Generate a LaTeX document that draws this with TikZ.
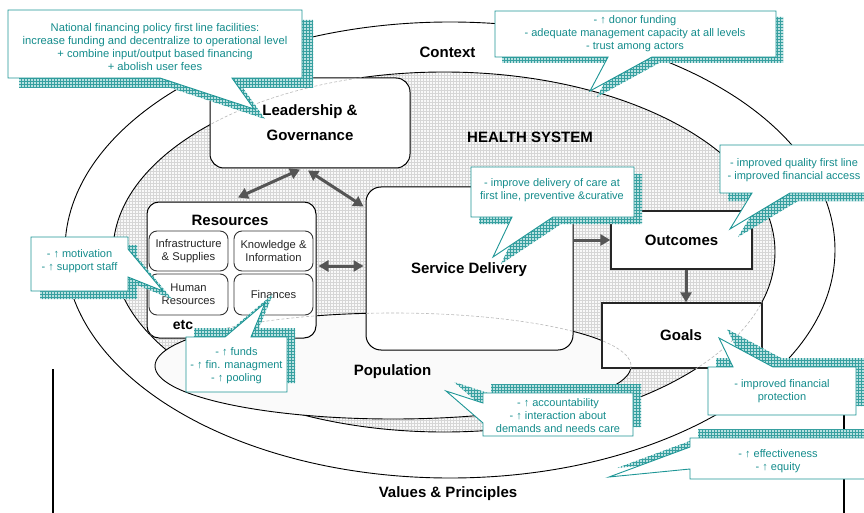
\documentclass[tikz,border=0pt]{standalone}
\usepackage{fontspec}
\setmainfont{Liberation Sans}
\usetikzlibrary{arrows.meta,patterns,calc}
\definecolor{tealtxt}{RGB}{20,140,140}
\definecolor{tealln}{RGB}{30,150,150}
\definecolor{shadowbg}{RGB}{185,225,225}
\definecolor{shadowfg}{RGB}{55,160,160}
\definecolor{arrowgray}{RGB}{85,85,85}
\tikzset{
  lbl/.style={font=\fontsize{15}{18}\selectfont\bfseries, anchor=base, inner sep=0pt},
  bigbox/.style={draw=black, line width=1pt, fill=white, inner sep=0pt, align=center, font=\fontsize{15}{25}\selectfont\bfseries},
  sqbox/.style={draw=black!85, line width=1.3pt, fill=white, inner sep=0pt, font=\fontsize{15}{18}\selectfont\bfseries},
  subbox/.style={draw=black!80, line width=0.9pt, fill=white, rounded corners=8pt, minimum width=79pt, minimum height=40pt, align=center, font=\fontsize{11.2}{13}\selectfont, text=black!85, inner sep=0pt},
  link/.style={draw=arrowgray, line width=3pt, -{Triangle[length=10pt,width=11pt]}},
  dlink/.style={draw=arrowgray, line width=3pt, {Triangle[length=10pt,width=11pt]}-{Triangle[length=10pt,width=11pt]}},
  cshadow/.style={fill=shadowbg, postaction={pattern=grid, pattern color=shadowfg}},
  cbox/.style={draw=tealln, line width=0.9pt, fill=white, line join=miter},
  ctext/.style={text=tealtxt, font=\fontsize{11}{13}\selectfont, align=center, inner sep=0pt},
  ghost/.style={draw=gray!55, dash pattern=on 3pt off 2pt, line width=0.6pt},
  ring/.style={draw=black, line width=0.9pt},
}
\def\cA{(8,10) -- (302,10) -- (302,78) -- (232,78) -- (254,109) -- (160,78) -- (8,78) -- cycle}
\def\cB{(495,11) -- (776,11) -- (776,57) -- (652,57) -- (590,91) -- (608,57) -- (495,57) -- cycle}
\def\cC{(720,145) -- (868,145) -- (868,193) -- (790,193) -- (730,229) -- (752,193) -- (720,193) -- cycle}
\def\cD{(471,167) -- (634,167) -- (634,217) -- (553,217) -- (493,257) -- (512,217) -- (471,217) -- cycle}
\def\cE{(31,237) -- (128,237) -- (128,249) -- (163,291) -- (128,277) -- (128,291) -- (31,291) -- cycle}
\def\cF{(186,337) -- (225,337) -- (265,303) -- (251,337) -- (287,337) -- (287,392) -- (186,392) -- cycle}
\def\cG{(483,393) -- (633,393) -- (633,436) -- (483,436) -- (483,423) -- (446,391) -- (483,403) -- cycle}
\def\cH{(708,367) -- (733,367) -- (719,338) -- (773,367) -- (856,367) -- (856,415) -- (708,415) -- cycle}
\def\cI{(690,438) -- (872,438) -- (872,479) -- (690,479) -- (690,469) -- (609,477) -- (690,447) -- cycle}
\begin{document}
\begin{tikzpicture}[x=1pt,y=-1pt]
\useasboundingbox (0,0) rectangle (864,513);
\clip (0,0) rectangle (864,513);
% context ellipse
\draw[ring, fill=white] (450,250) ellipse [x radius=385, y radius=228];
% health system ellipse
\fill[gray!5] (444,252) ellipse [x radius=331, y radius=180];
\fill[pattern=grid, pattern color=gray!32] (444,252) ellipse [x radius=331, y radius=180];
\draw[ring] (444,252) ellipse [x radius=331, y radius=180];
% population ellipse
\draw[ring, fill=gray!4] (393,366) ellipse [x radius=238, y radius=53];
% frame lines
\draw[line width=1.2pt] (53,369) -- (53,513);
\draw[line width=1.2pt] (844,405) -- (844,513);
% boxes
\node[bigbox, rounded corners=14pt, minimum width=200pt, minimum height=90pt] (lg) at (310,123) {};
\node[bigbox, rounded corners=12pt, minimum width=169pt, minimum height=136pt] (res) at (231.5,270) {};
\node[bigbox, rounded corners=15pt, minimum width=207pt, minimum height=163pt] (sd) at (469.5,268.5) {};
\node[sqbox, minimum width=141pt, minimum height=58pt] (out) at (681.5,240) {};
\node[sqbox, minimum width=160pt, minimum height=65pt] (goals) at (682,335.5) {};
% ellipse borders seen through the boxes
\foreach \b/\r in {lg/14pt,res/12pt,sd/15pt,out/0pt,goals/0pt}{
  \begin{scope}
    \clip[rounded corners=\r] (\b.south west) rectangle (\b.north east);
    \draw[ghost] (444,252) ellipse [x radius=331, y radius=180];
    \draw[ghost] (393,366) ellipse [x radius=238, y radius=53];
  \end{scope}
}
% box texts
\node[font=\fontsize{15}{25}\selectfont\bfseries, align=center, inner sep=0pt] (lgt) at (lg.center) {Leadership \&\\Governance};
\node[font=\fontsize{15}{18}\selectfont\bfseries, inner sep=0pt] (sdt) at (469,270) {Service Delivery};
\node[font=\fontsize{15}{18}\selectfont\bfseries, inner sep=0pt] (outt) at (out.center) {Outcomes};
\node[font=\fontsize{15}{18}\selectfont\bfseries, inner sep=0pt] (goalst) at (681,335) {Goals};
\node[lbl] (restitle) at (230,225.5) {Resources};
\node[subbox] (infra) at (188.5,251) {Infrastructure\\\& Supplies};
\node[subbox] (know) at (273.5,251) {Knowledge \&\\Information};
\node[subbox, minimum height=41pt] (hum) at (188.5,294.5) {Human\\Resources};
\node[subbox, minimum height=41pt] (fin) at (273.5,294.5) {Finances};
\node[lbl, font=\fontsize{14}{16}\selectfont\bfseries] (etc) at (183,329) {etc};
% labels
\node[lbl] (ctx) at (447.5,57.5) {Context};
\node[lbl] (hs) at (530,142.5) {HEALTH SYSTEM};
\node[lbl] (pop) at (392.5,375.5) {Population};
\node[lbl] (vp) at (448,497.5) {Values \& Principles};
% arrows
\draw[dlink] ($(res.north)+(6.5,-4)$) -- ($(lg.south)+(-10,1)$);
\draw[dlink] ($(lg.south)+(-2,2)$) -- ($(sd.north west)+(-2,20)$);
\draw[dlink] ($(res.east)+(2,-4)$) -- ($(res.east -| sd.west)+(-2,-4)$);
\draw[link] (sd.east |- out.west) -- (out.west);
\draw[link] ($(out.south)+(4.5,0)$) -- ($(out.south |- goals.north)+(4.5,0)$);
% callouts
\fill[cshadow, shift={(11,10)}] \cA; \draw[cbox] \cA;
\node[ctext, font=\fontsize{11.2}{13}\selectfont] (ca) at (155,47) {National financing policy first line facilities:\\increase funding and decentralize to operational level\\+ combine input/output based financing\\+ abolish user fees};
\fill[cshadow, shift={(7,6)}] \cB; \draw[cbox] \cB;
\node[ctext] (cb) at (635,34) {- ↑ donor funding\\- adequate management capacity at all levels\\- trust among actors};
\fill[cshadow, shift={(8,8)}] \cC; \draw[cbox] \cC;
\node[ctext] (cc) at (794,170.5) {- improved quality first line\\- improved financial access};
\fill[cshadow, shift={(8,7)}] \cD; \draw[cbox] \cD;
\node[ctext] (cd) at (552,190) {- improve delivery of care at\\first line, preventive \&curative};
\fill[cshadow, shift={(9,8)}] \cE; \draw[cbox] \cE;
\node[ctext] (ce) at (79.5,261) {- ↑ motivation\\- ↑ support staff};
\fill[cshadow, shift={(8,-9)}] \cF; \draw[cbox] \cF;
\node[ctext] (cf) at (236.5,365.5) {- ↑ funds\\- ↑ fin. managment\\- ↑ pooling};
\fill[cshadow, shift={(8,-9)}] \cG; \draw[cbox] \cG;
\node[ctext] (cg) at (558,415.5) {- ↑ accountability\\- ↑ interaction about\\demands and needs care};
\fill[cshadow, shift={(8,-9)}] \cH; \draw[cbox] \cH;
\node[ctext] (ch) at (782,391) {- improved financial\\protection};
\fill[cshadow, shift={(8,-9)}] \cI; \draw[cbox] \cI;
\node[ctext] (ci) at (778,461) {- ↑ effectiveness\\- ↑ equity};
\end{tikzpicture}
\end{document}
